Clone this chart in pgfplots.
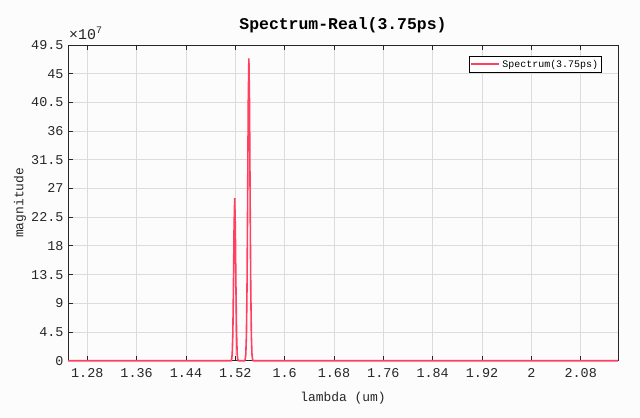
\documentclass[border=0pt]{standalone}
\usepackage{pgfplots}
\pgfplotsset{compat=1.18}
\usepackage{fontspec}
\setmainfont{Liberation Mono}
\definecolor{specred}{RGB}{255,64,96}
\definecolor{gridgray}{RGB}{220,220,220}
\definecolor{axgray}{RGB}{38,38,38}
\definecolor{bg}{RGB}{252,252,252}
\begin{document}
\begin{tikzpicture}
\fill[bg] (0,0) rectangle (640bp,418bp);
\path[use as bounding box] (0,0) rectangle (640bp,418bp);
\begin{axis}[
  at={(68bp,57.3bp)}, anchor=south west,
  scale only axis, width=550bp, height=315.7bp,
  xmin=1.2487, xmax=2.1405, ymin=0, ymax=49.5,
  xtick={1.28,1.36,1.44,1.52,1.6,1.68,1.76,1.84,1.92,2,2.08},
  xticklabels={1.28,1.36,1.44,1.52,1.6,1.68,1.76,1.84,1.92,2,2.08},
  ytick={0,4.5,9,13.5,18,22.5,27,31.5,36,40.5,45,49.5},
  yticklabels={0,4.5,9,13.5,18,22.5,27,31.5,36,40.5,45,49.5},
  xtick pos=both, ytick pos=left,
  tick align=inside, major tick length=5bp,
  grid=major,
  major grid style={gridgray, line width=0.8bp},
  axis line style={axgray, line width=0.9bp},
  every tick/.style={axgray, line width=0.9bp},
  axis background/.style={fill=bg},
  ticklabel style={font=\fontsize{13.5}{13.5}\selectfont, text=axgray},
  xticklabel style={yshift=-4bp},
  yticklabel style={xshift=-1bp},
  xlabel={lambda (um)},
  ylabel={magnitude},
  xlabel style={at={(axis description cs:0.5,0)}, anchor=center, yshift=-37.5bp, font=\fontsize{13}{13}\selectfont, text=axgray},
  ylabel style={at={(axis description cs:-0.0873,0.5)}, anchor=center, font=\fontsize{13}{13}\selectfont, text=axgray},
  title={\bfseries Spectrum-Real(3.75ps)},
  title style={at={(axis description cs:0.5,1)}, anchor=center, yshift=14bp, font=\fontsize{16.5}{16.5}\selectfont, text=black},
  legend style={at={(axis description cs:1,1)}, anchor=north east, xshift=-16bp, yshift=-11bp,
    draw=black, line width=0.8bp, fill=white, font=\fontsize{10}{10}\selectfont, inner sep=1.5bp,
    cells={anchor=west}},
  legend image code/.code={\draw[#1, line width=2bp] (0bp,0bp) -- (28bp,0bp);},
  clip=false,
]
\addplot[specred, line width=1.6bp] coordinates {
(1.2487,0) (1.513,0) (1.514,0.19) (1.515,1.1) (1.516,4.4) (1.517,11.7) (1.518,21.0) (1.519,25.5) (1.520,21.0) (1.521,11.7) (1.522,4.4) (1.523,1.1) (1.524,0.19) (1.525,0)
(1.535,0) (1.536,0.18) (1.537,1.0) (1.538,4.0) (1.539,11.8) (1.540,25.6) (1.541,40.6) (1.542,47.4) (1.543,40.6) (1.544,25.6) (1.545,11.8) (1.546,4.0) (1.547,1.0) (1.548,0.18) (1.549,0) (2.1405,0)
};
\addlegendentry{Spectrum(3.75ps)}
\node[anchor=south west, inner sep=0pt, font=\fontsize{15}{15}\selectfont, text=axgray] at (rel axis cs:0,1) [yshift=5bp, xshift=1bp] {×10\raisebox{6bp}{\fontsize{10}{10}\selectfont 7}};
\end{axis}
\end{tikzpicture}
\end{document}
